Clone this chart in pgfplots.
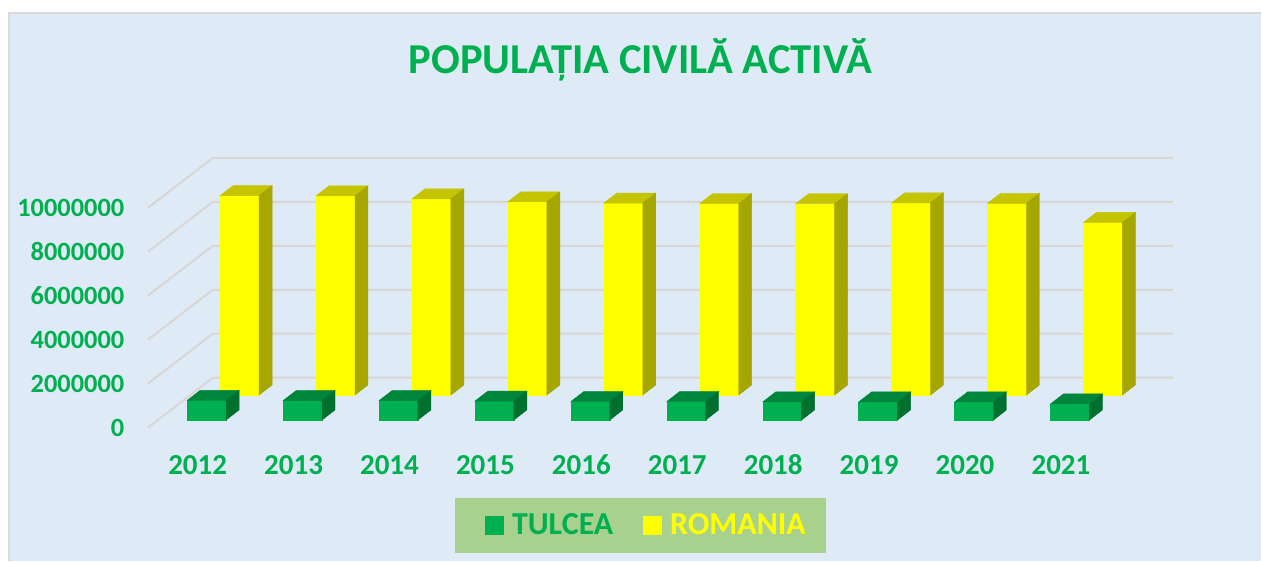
\documentclass[border=0pt]{standalone}
\usepackage{fontspec}
\setmainfont{Carlito}
\usepackage{pgfplots}
\pgfplotsset{compat=1.18}

\definecolor{panel}{HTML}{DEEAF6}
\definecolor{panelline}{HTML}{D9D9D9}
\definecolor{gridc}{HTML}{D9D6D3}
\definecolor{legbox}{HTML}{A9D18E}
\definecolor{green1}{HTML}{00B050}
\definecolor{green2}{HTML}{00853C}
\definecolor{green3}{HTML}{007030}
\definecolor{yel1}{HTML}{FFFF00}
\definecolor{yel2}{HTML}{C4C400}
\definecolor{yel3}{HTML}{A6A600}

% one box: left edge, base, value, three face colours
\newcommand{\cube}[6]{%
  \edef\xa{\fpeval{#1}}\edef\xb{\fpeval{#1+0.406}}%
  \edef\xc{\fpeval{#1+0.406+0.1354}}\edef\xd{\fpeval{#1+0.1354}}%
  \edef\ya{\fpeval{#2}}\edef\yb{\fpeval{#2+#3}}%
  \edef\yc{\fpeval{#2+455000}}\edef\yd{\fpeval{#2+#3+455000}}%
  \addplot[forget plot,fill=#4,draw=#4,line width=.2pt] coordinates {(\xa,\ya)(\xb,\ya)(\xb,\yb)(\xa,\yb)} --cycle;
  \addplot[forget plot,fill=#5,draw=#5,line width=.2pt] coordinates {(\xa,\yb)(\xb,\yb)(\xc,\yd)(\xd,\yd)} --cycle;
  \addplot[forget plot,fill=#6,draw=#6,line width=.2pt] coordinates {(\xb,\ya)(\xc,\yc)(\xc,\yd)(\xb,\yb)} --cycle;
}
% one year: position, Tulcea, Romania
\newcommand{\yearbars}[3]{%
  \cube{#1-0.203+0.3438}{1486000}{#3}{yel1}{yel2}{yel3}
  \cube{#1-0.203}{350000}{#2}{green1}{green2}{green3}
}
\newcommand{\wallline}[1]{%
  \edef\yf{\fpeval{#1+2272727}}%
  \addplot[forget plot,gridc,line width=1pt] coordinates {(-0.6125,#1)(0.0646,\yf)(10.075,\yf)};
}

\begin{document}
\begin{tikzpicture}
% panel behind the axis, so the tick labels stay on top
\fill[panel] (4.5pt,0pt) rectangle (631pt,274pt);
\draw[panelline,line width=1pt] (4.5pt,0pt) -- (4.5pt,274pt) -- (631pt,274pt);
\begin{axis}[
  scale only axis,
  width=631pt,height=280.5pt,
  xmin=-2.154,xmax=10.9917,
  ymin=-6045455,ymax=19454545,
  clip=false,
  axis line style={draw=none},
  major tick length=0pt,
  tick style={draw=none},
  xtick={0,1,2,3,4,5,6,7,8,9},
  xticklabels={2012,2013,2014,2015,2016,2017,2018,2019,2020,2021},
  ytick={0,2000000,4000000,6000000,8000000,10000000},
  scaled y ticks=false,
  xticklabel style={anchor=center,xshift=-4.5pt,yshift=48pt,text=green1,
    font=\fontsize{14.5}{16}\selectfont\bfseries},
  yticklabel style={anchor=east,xshift=65.7pt,text=green1,
    font=\fontsize{13.2}{16}\selectfont\bfseries,
    /pgf/number format/fixed,/pgf/number format/1000 sep={},
    /pgf/number format/assume math mode=true},
  title={POPULAȚIA CIVILĂ ACTIVĂ},
  title style={at={(0.5079,0.894)},anchor=center,yshift=-6pt,text=green1,
    font=\fontsize{21.3}{25}\selectfont\bfseries},
  legend columns=2,
  legend style={at={(0.5079,0.0633)},anchor=center,draw=none,fill=legbox,
    font=\fontsize{16}{18}\selectfont\bfseries,
    inner xsep=8pt,inner ysep=5.8pt,
    /tikz/every even column/.style={column sep=13pt}},
]
\wallline{0}
\wallline{2000000}
\wallline{4000000}
\wallline{6000000}
\wallline{8000000}
\wallline{10000000}

\yearbars{0}{890000}{9070000}
\yearbars{1}{880000}{9060000}
\yearbars{2}{880000}{8920000}
\yearbars{3}{860000}{8790000}
\yearbars{4}{840000}{8730000}
\yearbars{5}{840000}{8710000}
\yearbars{6}{820000}{8700000}
\yearbars{7}{820000}{8740000}
\yearbars{8}{820000}{8720000}
\yearbars{9}{730000}{7850000}

\addlegendimage{legend image code/.code={\path (-7pt,0pt) (11pt,0pt);\fill[green1] (0pt,-4.5pt) rectangle (9pt,4.5pt);}}
\addlegendentry{\textcolor{green1}{TULCEA}}
\addlegendimage{legend image code/.code={\path (11pt,0pt);\fill[yel1] (0pt,-4.5pt) rectangle (9pt,4.5pt);}}
\addlegendentry{\textcolor{yel1}{ROMANIA}}
\end{axis}
\end{tikzpicture}
\end{document}
